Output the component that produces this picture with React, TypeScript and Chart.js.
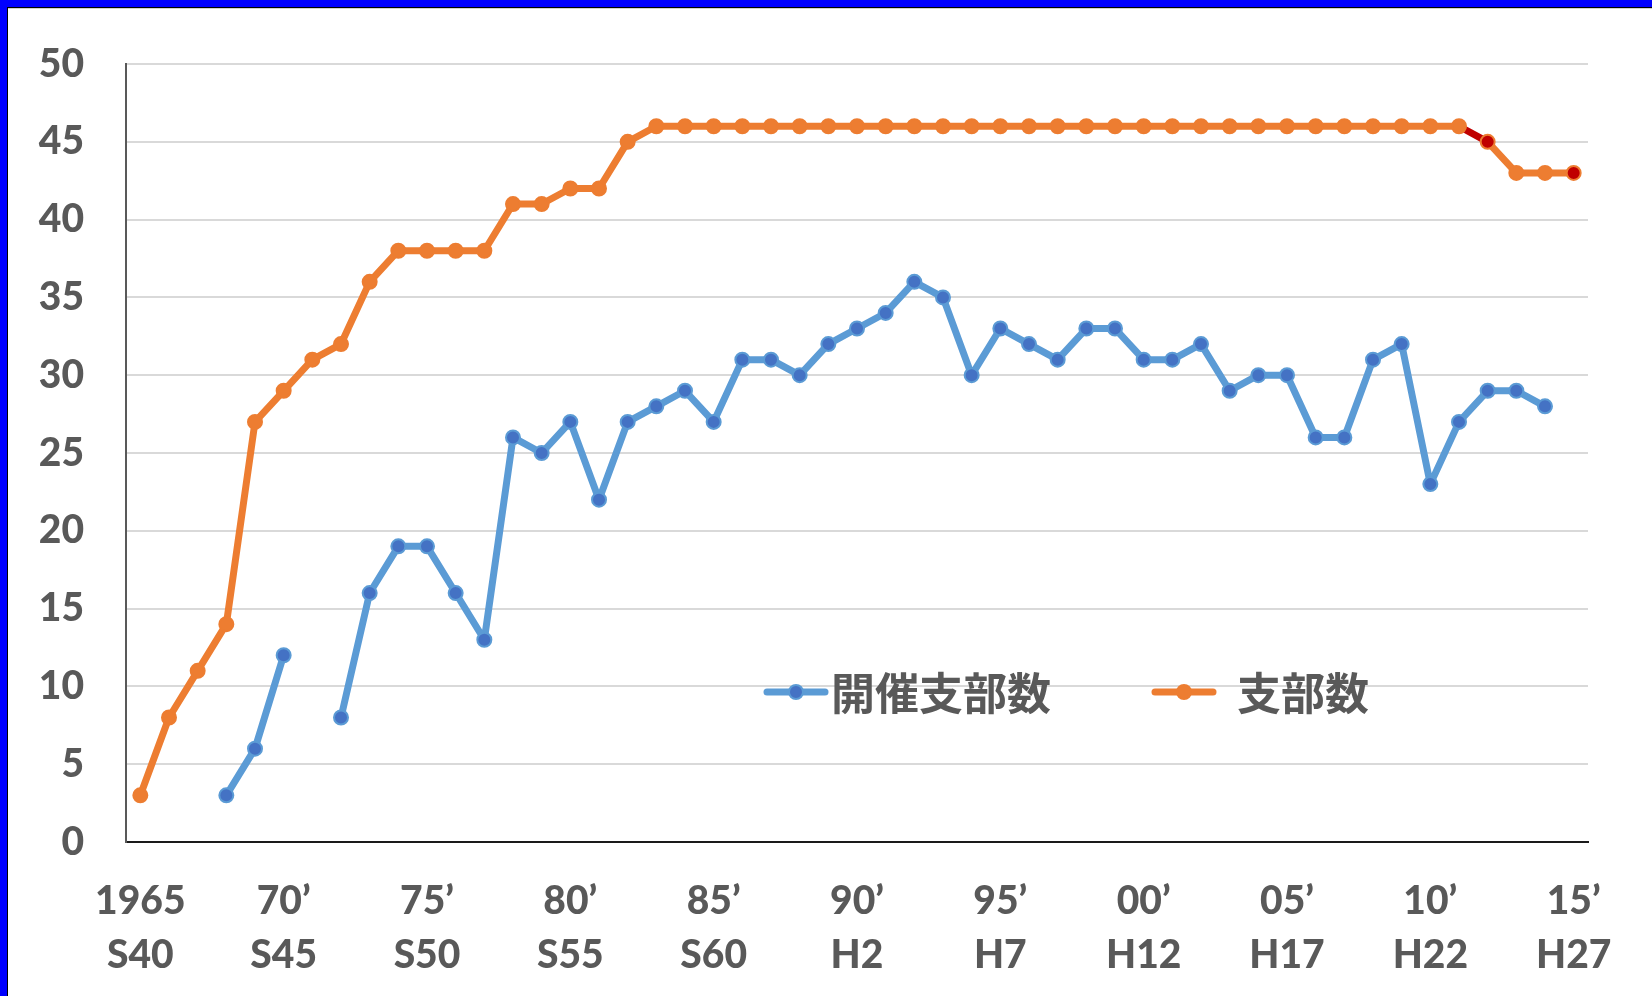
import { useEffect, useRef } from 'react';
import { Chart, registerables } from 'chart.js';

Chart.register(...registerables);

const years = [
  '1965', '1966', '1967', '1968', '1969', '1970', '1971', '1972', '1973', '1974',
  '1975', '1976', '1977', '1978', '1979', '1980', '1981', '1982', '1983', '1984',
  '1985', '1986', '1987', '1988', '1989', '1990', '1991', '1992', '1993', '1994',
  '1995', '1996', '1997', '1998', '1999', '2000', '2001', '2002', '2003', '2004',
  '2005', '2006', '2007', '2008', '2009', '2010', '2011', '2012', '2013', '2014',
  '2015',
];

// 開催支部数
const heldBranches: (number | null)[] = [
  null, null, null, 3, 6, 12, null, 8, 16, 19,
  19, 16, 13, 26, 25, 27, 22, 27, 28, 29,
  27, 31, 31, 30, 32, 33, 34, 36, 35, 30,
  33, 32, 31, 33, 33, 31, 31, 32, 29, 30,
  30, 26, 26, 31, 32, 23, 27, 29, 29, 28,
  null,
];

// 支部数
const branches: number[] = [
  3, 8, 11, 14, 27, 29, 31, 32, 36, 38,
  38, 38, 38, 41, 41, 42, 42, 45, 46, 46,
  46, 46, 46, 46, 46, 46, 46, 46, 46, 46,
  46, 46, 46, 46, 46, 46, 46, 46, 46, 46,
  46, 46, 46, 46, 46, 46, 46, 45, 43, 43,
  43,
];

const yearTickLabels = ['1965', '70’', '75’', '80’', '85’', '90’', '95’', '00’', '05’', '10’', '15’'];
const eraTickLabels = ['S40', 'S45', 'S50', 'S55', 'S60', 'H2', 'H7', 'H12', 'H17', 'H22', 'H27'];

const seriesNames = ['開催支部数', '支部数'];

const BLUE_LINE = '#5B9BD5';
const BLUE_FILL = '#4472C4';
const ORANGE = '#ED7D31';
const DARK_RED = '#C00000';
const TEXT = '#595959';
const TICK_FONT = { family: 'Lato, "Noto Sans", sans-serif', size: 39, weight: '900' as any, lineHeight: 1.4 };

const highlightedPoints = ['2012', '2015'];
const highlightedSegmentStart = '2011';

const legendPlugin = {
  id: 'insideLegend',
  afterDraw(chart: any) {
    const { ctx, chartArea } = chart;
    const cy = chartArea.top + 628;
    const items = [
      { x: chartArea.left + 641, line: BLUE_LINE, fill: BLUE_FILL, label: seriesNames[0], gap: 64 },
      { x: chartArea.left + 1029, line: ORANGE, fill: ORANGE, label: seriesNames[1], gap: 82 },
    ];
    ctx.save();
    for (const it of items) {
      ctx.strokeStyle = it.line;
      ctx.lineWidth = 7;
      ctx.lineCap = 'round';
      ctx.beginPath();
      ctx.moveTo(it.x, cy);
      ctx.lineTo(it.x + 58, cy);
      ctx.stroke();
      ctx.beginPath();
      ctx.arc(it.x + 29, cy, 7, 0, Math.PI * 2);
      ctx.fillStyle = it.fill;
      ctx.fill();
      ctx.lineWidth = 2;
      ctx.strokeStyle = it.line;
      ctx.stroke();
      ctx.fillStyle = TEXT;
      ctx.font = 'bold 44px "Noto Sans CJK JP", sans-serif';
      ctx.textBaseline = 'middle';
      ctx.textAlign = 'left';
      ctx.fillText(it.label, it.x + it.gap, cy + 1);
    }
    ctx.restore();
  },
};

export default function App() {
  const canvasRef = useRef<HTMLCanvasElement | null>(null);

  useEffect(() => {
    document.body.style.margin = '0';
    const canvas = canvasRef.current;
    if (!canvas) return;
    const chart = new Chart(canvas, {
      type: 'line',
      data: {
        labels: years,
        datasets: [
          {
            label: seriesNames[0],
            data: heldBranches,
            borderColor: BLUE_LINE,
            backgroundColor: BLUE_FILL,
            borderWidth: 7,
            pointRadius: 7,
            pointBorderWidth: 2,
            pointBackgroundColor: BLUE_FILL,
            pointBorderColor: BLUE_LINE,
            borderJoinStyle: 'round',
            borderCapStyle: 'round',
            spanGaps: false,
            tension: 0,
          },
          {
            label: seriesNames[1],
            data: branches,
            borderColor: ORANGE,
            backgroundColor: ORANGE,
            borderWidth: 7,
            pointRadius: 7,
            pointBorderWidth: 2,
            pointBackgroundColor: years.map((y) => (highlightedPoints.includes(y) ? DARK_RED : ORANGE)),
            pointBorderColor: ORANGE,
            borderJoinStyle: 'round',
            borderCapStyle: 'round',
            tension: 0,
            segment: {
              borderColor: (c: any) => (years[c.p0DataIndex] === highlightedSegmentStart ? DARK_RED : undefined),
            },
          },
        ],
      },
      options: {
        animation: false,
        responsive: false,
        devicePixelRatio: 1,
        layout: { padding: { top: 64, right: 64, bottom: 0, left: 0 } },
        plugins: {
          legend: { display: false },
          tooltip: { enabled: false },
        },
        scales: {
          x: {
            offset: true,
            grid: { display: false, drawTicks: false },
            border: { display: true, color: '#1a1a1a', width: 2 },
            ticks: {
              autoSkip: false,
              maxRotation: 0,
              minRotation: 0,
              padding: 32,
              color: TEXT,
              font: TICK_FONT,
              callback: (_v: any, i: number) => (i % 5 === 0 ? [yearTickLabels[i / 5], eraTickLabels[i / 5]] : null),
            },
            afterFit: (s: any) => {
              s.height = 154;
            },
          },
          y: {
            min: 0,
            max: 50,
            ticks: {
              stepSize: 5,
              padding: 42,
              color: TEXT,
              font: TICK_FONT,
            },
            grid: { color: '#D9D9D9', lineWidth: 2, drawTicks: false },
            border: { display: true, color: '#595959', width: 2 },
            afterFit: (s: any) => {
              s.width = 126;
              s.paddingTop = 0;
              s.paddingBottom = 0;
            },
          },
        },
      },
      plugins: [legendPlugin],
    });
    return () => chart.destroy();
  }, []);

  return (
    <div style={{ position: 'fixed', left: 0, top: 0, width: 1652, height: 996, background: '#fff', overflow: 'hidden' }}>
      <canvas ref={canvasRef} width={1652} height={996} style={{ position: 'absolute', left: 0, top: 0, width: 1652, height: 996 }} />
      <div style={{ position: 'absolute', left: 0, top: 0, width: 1652, height: 7, background: '#0000FF' }} />
      <div style={{ position: 'absolute', left: 7, top: 7, width: 1645, height: 1, background: '#000' }} />
      <div style={{ position: 'absolute', left: 8, top: 8, width: 1644, height: 1, background: '#d0d0d0' }} />
      <div style={{ position: 'absolute', left: 0, top: 0, width: 7, height: 996, background: '#0000FF' }} />
      <div style={{ position: 'absolute', left: 7, top: 7, width: 1, height: 989, background: '#000' }} />
    </div>
  );
}
